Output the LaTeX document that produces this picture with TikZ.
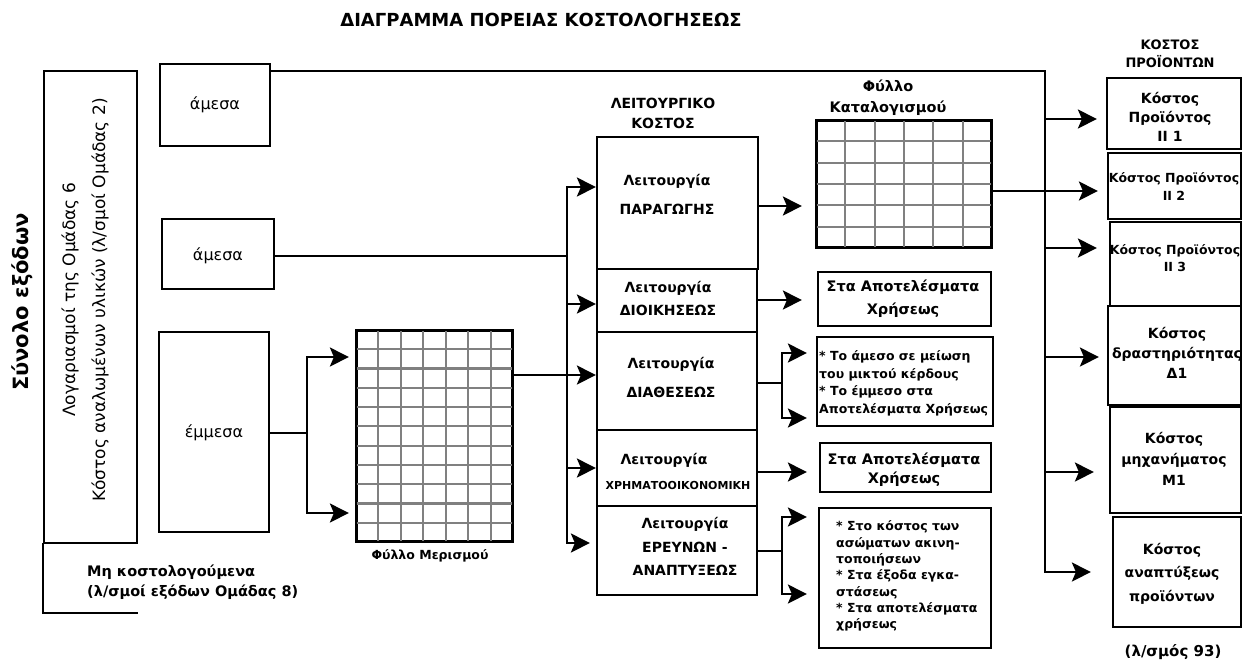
\documentclass[tikz,border=0pt]{standalone}
\usepackage{fontspec}
\setmainfont{DejaVu Sans}
\usetikzlibrary{arrows.meta,calc,fit}

\newcommand{\fsz}[2]{\fontsize{#1}{#2}\selectfont}

\tikzset{
  box/.style={draw, line width=2.2pt, inner sep=0pt},
  conn/.style={line width=2.2pt, line cap=rect},
  arr/.style={line width=2.2pt, -{Stealth[length=19pt,width=19pt,inset=4pt]}},
  lbl/.style={inner sep=0pt, align=center, font=\bfseries\fsz{14}{20}},
  gridline/.style={draw=black!50, line width=2.2pt}
}

\begin{document}
\begin{tikzpicture}[x=1pt,y=-1pt]
\useasboundingbox (0,0) rectangle (1244,662);

% title
\node[lbl, font=\bfseries\fsz{18}{22}] (title) at (541,20) {ΔΙΑΓΡΑΜΜΑ ΠΟΡΕΙΑΣ ΚΟΣΤΟΛΟΓΗΣΕΩΣ};

% total expenses and cost accounts
\node[lbl, rotate=90, font=\bfseries\fsz{21}{25}] (total) at (22,302) {Σύνολο εξόδων};
\node[box, fit={(44,71)(137,543)}] (groups) {};
\node[lbl, rotate=90, font=\fsz{17}{30}] (groupstxt) at (85,300)
  {Λογαριασμοί της Ομάδας 6\\Κόστος αναλωμένων υλικών (λ/σμοί Ομάδας 2)};
\coordinate (ncend) at (137,613);
\draw[conn] (groups.south west) |- (ncend);
\node[lbl, anchor=west, align=left, font=\bfseries\fsz{14.5}{20}] (noncost) at (87,582)
  {Μη κοστολογούμενα\\(λ/σμοί εξόδων Ομάδας 8)};

% direct / indirect cost boxes
\node[box, fit={(160,64)(270,146)}] (am1) {};
\node[box, fit={(162,219)(274,289)}] (am2) {};
\node[box, fit={(159,332)(269,532)}] (emm) {};
\node[lbl, font=\fsz{16}{20}] (am1txt) at (215,105) {άμεσα};
\node[lbl, font=\fsz{16}{20}] (am2txt) at (218,256) {άμεσα};
\node[lbl, font=\fsz{16}{20}] (emmtxt) at (214,433) {έμμεσα};

% allocation sheet
\node[box, fit={(357,331)(512,541)}] (meris) {};
\foreach \i in {1,...,6}
  \draw[gridline] ($(meris.north west)!\i/7!(meris.north east)$) -- ($(meris.south west)!\i/7!(meris.south east)$);
\foreach \j in {1,...,10}
  \draw[gridline] ($(meris.north west)!\j/11!(meris.south west)$) -- ($(meris.north east)!\j/11!(meris.south east)$);
\draw[line width=2.2pt] (meris.north west) rectangle (meris.south east);
\node[lbl, font=\bfseries\fsz{12.5}{15}] (merislbl) at (430,556) {Φύλλο Μερισμού};

% functions
\node[lbl] (funchead) at (663,113) {ΛΕΙΤΟΥΡΓΙΚΟ\\ΚΟΣΤΟΣ};
\node[box, fit={(597,137)(758,269)}] (par) {};
\node[box, fit={(597,269)(757,332)}] (dio) {};
\node[box, fit={(597,332)(757,430)}] (dia) {};
\node[box, fit={(597,430)(757,506)}] (xri) {};
\node[box, fit={(597,506)(757,595)}] (ere) {};
\node[lbl, font=\bfseries\fsz{14}{29}] (partxt) at (667,194.5) {Λειτουργία\\ΠΑΡΑΓΩΓΗΣ};
\node[lbl, font=\bfseries\fsz{14}{23}] (diotxt) at (668,298.5) {Λειτουργία\\ΔΙΟΙΚΗΣΕΩΣ};
\node[lbl, font=\bfseries\fsz{14}{29}] (diatxt) at (671,377.5) {Λειτουργία\\ΔΙΑΘΕΣΕΩΣ};
\node[lbl] (xritxt) at (664,460) {Λειτουργία};
\node[lbl, font=\bfseries\fsz{11}{13}] (xritxtb) at (678,485) {ΧΡΗΜΑΤΟΟΙΚΟΝΟΜΙΚΗ};
\node[lbl, font=\bfseries\fsz{14}{23.5}] (eretxt) at (685,546.5) {Λειτουργία\\ΕΡΕΥΝΩΝ -\\ΑΝΑΠΤΥΞΕΩΣ};

% charging sheet
\node[box, fit={(817,121)(991,247)}] (katal) {};
\foreach \i in {1,...,5}
  \draw[gridline] ($(katal.north west)!\i/6!(katal.north east)$) -- ($(katal.south west)!\i/6!(katal.south east)$);
\foreach \j in {1,...,5}
  \draw[gridline] ($(katal.north west)!\j/6!(katal.south west)$) -- ($(katal.north east)!\j/6!(katal.south east)$);
\draw[line width=2.2pt] (katal.north west) rectangle (katal.south east);
\node[lbl, font=\bfseries\fsz{14.5}{21}] (katallbl) at (888,97.5) {Φύλλο\\Καταλογισμού};

% results boxes
\node[box, fit={(818,272)(991,326)}] (res1) {};
\node[lbl, font=\bfseries\fsz{14.5}{23}] (res1txt) at (903,298.5) {Στα Αποτελέσματα\\Χρήσεως};
\node[box, fit={(817,337)(993,426)}] (notes1) {};
\node[lbl, anchor=west, align=left, font=\bfseries\fsz{12.5}{17.5}] (notes1txt) at (819,383.5)
  {* Το άμεσο σε μείωση\\του μικτού κέρδους\\* Το έμμεσο στα\\Αποτελέσματα Χρήσεως};
\node[box, fit={(820,443)(991,492)}] (res2) {};
\node[lbl, font=\bfseries\fsz{14.5}{19}] (res2txt) at (904,469.5) {Στα Αποτελέσματα\\Χρήσεως};
\node[box, fit={(819,508)(991,648)}] (notes2) {};
\node[lbl, anchor=west, align=left, font=\bfseries\fsz{12.5}{16.3}] (notes2txt) at (836,576)
  {* Στο κόστος των\\ασώματων ακινη-\\τοποιήσεων\\* Στα έξοδα εγκα-\\στάσεως\\* Στα αποτελέσματα\\χρήσεως};

% product costs
\node[lbl, font=\bfseries\fsz{13}{18}] (prodhead) at (1170,54) {ΚΟΣΤΟΣ\\ΠΡΟΪΟΝΤΩΝ};
\node[box, fit={(1107,78)(1241,149)}] (p1) {};
\node[box, fit={(1108,153)(1241,219)}] (p2) {};
\node[box, fit={(1110,222)(1241,306)}] (p3) {};
\node[box, fit={(1108,306)(1241,405)}] (p4) {};
\node[box, fit={(1110,407)(1241,513)}] (p5) {};
\node[box, fit={(1113,517)(1241,627)}] (p6) {};
\node[lbl, font=\bfseries\fsz{14}{19}] (p1txt) at (1170,117) {Κόστος\\Προϊόντος\\II 1};
\node[lbl, font=\bfseries\fsz{12.5}{18}] (p2txt) at (1174,186) {Κόστος Προϊόντος\\II 2};
\node[lbl, font=\bfseries\fsz{12.5}{17}] (p3txt) at (1175,258.5) {Κόστος Προϊόντος\\II 3};
\node[lbl, font=\bfseries\fsz{14}{20}] (p4txt) at (1177,353) {Κόστος\\δραστηριότητας\\Δ1};
\node[lbl, font=\bfseries\fsz{14}{21}] (p5txt) at (1174,459) {Κόστος\\μηχανήματος\\Μ1};
\node[lbl, font=\bfseries\fsz{14}{23.5}] (p6txt) at (1172,573.5) {Κόστος\\αναπτύξεως\\προϊόντων};
\node[lbl, font=\bfseries\fsz{15}{18}] (acct93) at (1173,652) {(λ/σμός 93)};

% junction points
\coordinate (e1) at (307,357);
\coordinate (e2) at (307,513);
\coordinate (m1) at (567,187);
\coordinate (m2) at (567,304);
\coordinate (m3) at (567,375);
\coordinate (m4) at (567,468);
\coordinate (m5) at (567,543);
\coordinate (pk) at (780,206);
\coordinate (dr) at (780,300);
\coordinate (d0) at (782,383);
\coordinate (d1) at (782,353);
\coordinate (d2) at (782,418);
\coordinate (xr) at (780,472);
\coordinate (r0) at (782,551);
\coordinate (r1) at (782,517);
\coordinate (r2) at (782,594);
\coordinate (busR) at (1045,71);
\coordinate (busRend) at (1045,572);
\coordinate (b1) at (1045,119);
\coordinate (b2) at (1045,191);
\coordinate (b3) at (1045,248);
\coordinate (b4) at (1045,357);
\coordinate (b5) at (1045,472);

% indirect costs into the allocation sheet
\draw[conn] (emm.east |- emmtxt) -- (emmtxt -| e1);
\draw[arr, shorten >=7pt] (e2) |- (meris.west |- e1);
\draw[arr, shorten >=7pt] (e1) |- (meris.west |- e2);

% distribution to the functions
\draw[conn] (am2.east |- am2txt) -- (am2txt -| m1);
\draw[arr] (m5) |- (par.west |- m1);
\draw[arr, shorten >=6pt] (m1) |- (ere.west |- m5);
\draw[arr] (m2) -- (dio.west |- m2);
\draw[arr] (meris.east |- m3) -- (dia.west |- m3);
\draw[arr] (m4) -- (xri.west |- m4);

% function outputs
\draw[arr, shorten >=14pt] (par.east |- pk) -- (katal.west |- pk);
\draw[arr, shorten >=15pt] (dio.east |- dr) -- (res1.west |- dr);
\draw[conn] (dia.east |- d0) -- (d0);
\draw[arr, shorten >=9pt] (d2) |- (notes1.west |- d1);
\draw[arr, shorten >=9pt] (d1) |- (notes1.west |- d2);
\draw[arr, shorten >=12pt] (xri.east |- xr) -- (res2.west |- xr);
\draw[conn] (ere.east |- r0) -- (r0);
\draw[arr, shorten >=11pt] (r2) |- (notes2.west |- r1);
\draw[arr, shorten >=11pt] (r1) |- (notes2.west |- r2);

% product cost bus
\draw[arr, shorten >=21pt] (am1.north east |- busR) -- (busR) -- (busRend) -- (p6.west |- busRend);
\draw[arr, shorten >=9pt] (b1) -- (p1.west |- b1);
\draw[arr, shorten >=9pt] (katal.east |- b2) -- (p2.west |- b2);
\draw[arr, shorten >=12pt] (b3) -- (p3.west |- b3);
\draw[arr, shorten >=8pt] (b4) -- (p4.west |- b4);
\draw[arr, shorten >=15pt] (b5) -- (p5.west |- b5);
\end{tikzpicture}
\end{document}
